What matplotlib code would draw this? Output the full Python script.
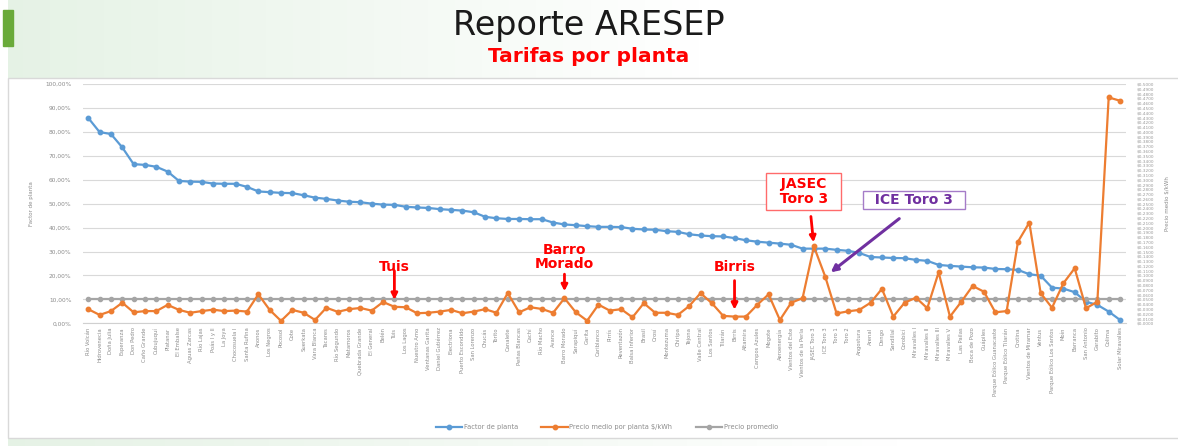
import numpy as np
import matplotlib
matplotlib.use("Agg")
import matplotlib.pyplot as plt
from matplotlib.patches import Rectangle
from matplotlib.ticker import FuncFormatter, FixedLocator

# ---------------- data ----------------
plantas = [
    "Río Volcán", "Hidrovenecia", "Doña Julia", "Esperanza", "Don Pedro", "Caño Grande",
    "Cubujuquí", "Platanar", "El Embalse", "Aguas Zarcas", "Río Lajas", "Poás I y II",
    "La Joya", "Chocosuela I", "Santa Rufina", "Anonos", "Los Negros", "Pocosol",
    "Cote", "Suerkata", "Vara Blanca", "Tacares", "Río Segundo", "Matamoros",
    "Quebrada Grande", "El General", "Belén", "Tuis", "Los Lagos", "Nuestro Amo",
    "Ventanas Garita", "Daniel Gutiérrez", "Electriona", "Puerto Escondido", "San Lorenzo", "Chucás",
    "Torito", "Canalete", "Peñas Blancas", "Cachí", "Río Macho", "Avance",
    "Barro Morado", "Sarapiquí", "Garita", "Cariblanco", "Pirrís", "Reventazón",
    "Balsa Inferior", "Brasil", "Orosí", "Montezuma", "Chiripa", "Tejona",
    "Valle Central", "Los Santos", "Tilarán", "Birris", "Altamira", "Campos Azules",
    "Mogote", "Aeroenergía", "Vientos del Este", "Vientos de la Perla", "JASEC Toro 3", "ICE Toro 3",
    "Toro 1", "Toro 2", "Angostura", "Arenal", "Dengo", "Sandillal",
    "Corobicí", "Miravalles I", "Miravalles II", "Miravalles III", "Miravalles V", "Las Pailas",
    "Boca de Pozo", "Guápiles", "Parque Eólico Guanacaste", "Parque Eólico Tilarán", "Orotina", "Vientos de Miramar",
    "Ventus", "Parque Eólico Los Santos", "Moín", "Barranca", "San Antonio", "Garabito",
    "Colima", "Solar Miravalles",
]

factor_planta = [
    0.858, 0.799, 0.791, 0.735, 0.665, 0.662, 0.654, 0.634, 0.595, 0.592,
    0.591, 0.584, 0.583, 0.583, 0.570, 0.551, 0.548, 0.545, 0.544, 0.535,
    0.525, 0.520, 0.513, 0.508, 0.506, 0.500, 0.496, 0.495, 0.487, 0.484,
    0.482, 0.477, 0.474, 0.471, 0.464, 0.445, 0.439, 0.436, 0.436, 0.435,
    0.435, 0.421, 0.413, 0.410, 0.406, 0.403, 0.403, 0.402, 0.395, 0.392,
    0.391, 0.385, 0.382, 0.372, 0.367, 0.364, 0.363, 0.356, 0.347, 0.341,
    0.337, 0.333, 0.328, 0.312, 0.312, 0.312, 0.307, 0.303, 0.294, 0.277,
    0.275, 0.273, 0.272, 0.265, 0.261, 0.244, 0.240, 0.237, 0.234, 0.233,
    0.227, 0.226, 0.223, 0.205, 0.199, 0.149, 0.145, 0.130, 0.090, 0.077,
    0.049, 0.014,
]

precio_medio = [
    0.0295, 0.0175, 0.0255, 0.0430, 0.0230, 0.0255, 0.0255, 0.0385, 0.0280, 0.0220,
    0.0255, 0.0285, 0.0255, 0.0265, 0.0245, 0.0605, 0.0280, 0.0050, 0.0280, 0.0220,
    0.0070, 0.0325, 0.0240, 0.0295, 0.0320, 0.0265, 0.0445, 0.0345, 0.0335, 0.0210,
    0.0220, 0.0245, 0.0280, 0.0210, 0.0245, 0.0295, 0.0220, 0.0630, 0.0230, 0.0335,
    0.0300, 0.0220, 0.0525, 0.0230, 0.0055, 0.0390, 0.0265, 0.0295, 0.0125, 0.0420,
    0.0220, 0.0220, 0.0175, 0.0360, 0.0630, 0.0420, 0.0155, 0.0140, 0.0140, 0.0385,
    0.0605, 0.0070, 0.0430, 0.0525, 0.1605, 0.0975, 0.0205, 0.0250, 0.0280, 0.0430,
    0.0720, 0.0140, 0.0430, 0.0535, 0.0315, 0.1065, 0.0140, 0.0450, 0.0780, 0.0660,
    0.0230, 0.0255, 0.1705, 0.2105, 0.0630, 0.0325, 0.0835, 0.1150, 0.0315, 0.0450,
    0.4720, 0.4650,
]

precio_promedio = 0.05

anotaciones_rojas = [("Tuis", "Tuis"), ("Barro\nMorado", "Barro Morado"), ("Birris", "Birris")]

# ---------------- figure ----------------
W, H = 1178, 446
fig = plt.figure(figsize=(W / 100, H / 100), dpi=100)
fig.patch.set_facecolor("white")

bg = fig.add_axes([0, 0, 1, 1], zorder=0)
bg.axis("off")
grad = np.linspace(0, 1, 256)
rgb = np.zeros((1, 256, 3))
base = np.array([0.90, 0.95, 0.90])
for k in range(3):
    rgb[0, :, k] = base[k] + (1 - base[k]) * grad
bg.imshow(rgb, extent=[8, 700, 78, 0], aspect="auto", zorder=0)
bg.imshow(rgb, extent=[8, 900, H, 438], aspect="auto", zorder=0)
bg.add_patch(Rectangle((3, 10), 10, 36, color="#6aaa3a", zorder=2))
bg.add_patch(Rectangle((8, 78), 1180, 360, facecolor="white", edgecolor="#d9d9d9", lw=1.0, zorder=1))
bg.set_xlim(0, W)
bg.set_ylim(H, 0)

fig.text(0.5, 1 - 26 / H, "Reporte ARESEP", ha="center", va="center",
         fontsize=24, family="DejaVu Sans", color="#1a1a1a")
fig.text(0.5, 1 - 56 / H, "Tarifas por planta", ha="center", va="center",
         fontsize=14.5, family="DejaVu Sans", fontweight="bold", color="#ff0000")

# main axes
left = 82.6 / W
right = 1125.7 / W
bottom = (H - 323.3) / H
top = (H - 84) / H
ax = fig.add_axes([left, bottom, right - left, top - bottom], zorder=2)
ax.set_facecolor("none")
x = np.arange(len(plantas))
ax.set_xlim(-0.5, len(plantas) - 0.5)
ax.set_ylim(0, 1.0)
ax.yaxis.set_major_locator(FixedLocator(np.arange(0, 1.001, 0.1)))
ax.yaxis.set_major_formatter(FuncFormatter(lambda v, p: f"{v*100:.2f}%".replace(".", ",")))
ax.grid(axis="y", color="#d9d9d9", lw=0.8)
ax.set_axisbelow(True)
for s in ["top", "right", "left"]:
    ax.spines[s].set_visible(False)
ax.spines["bottom"].set_color("#d0d0d0")
ax.tick_params(axis="y", length=0, labelsize=4.2, labelcolor="#8c8c8c", pad=8)
ax.set_xticks(x)
ax.set_xticklabels(plantas, rotation=90, fontsize=3.8, color="#8c8c8c")
ax.tick_params(axis="x", length=0, pad=3)
ax.set_ylabel("Factor de planta", fontsize=4, color="#8c8c8c", labelpad=8)

l1, = ax.plot(x, factor_planta, color="#5b9bd5", lw=1.6, marker="o", ms=3.2,
              label="Factor de planta", zorder=3)

ax2 = ax.twinx()
ax2.set_ylim(0, 0.5)
ax2.set_xlim(-0.5, len(plantas) - 0.5)
ax2.yaxis.set_major_locator(FixedLocator(np.arange(0, 0.5001, 0.01)))
ax2.yaxis.set_major_formatter(FuncFormatter(lambda v, p: f"${v:.4f}".replace(".", ",")))
ax2.tick_params(axis="y", length=0, labelsize=3.1, labelcolor="#9a9a9a", pad=8)
for s in ["top", "right", "left", "bottom"]:
    ax2.spines[s].set_visible(False)
ax2.set_ylabel("Precio medio $/kWh", fontsize=4, color="#8c8c8c", labelpad=8)

l3, = ax2.plot(x, [precio_promedio] * len(x), color="#a5a5a5", lw=1.6, marker="o", ms=3.0,
               label="Precio promedio", zorder=3)
l2, = ax2.plot(x, precio_medio, color="#ed7d31", lw=1.6, marker="o", ms=3.2,
               label="Precio medio por planta $/kWh", zorder=4)

PX = 0.72  # points per pixel at 100 dpi
FS = 10

red_cfg = {"Tuis": (40, 29), "Barro Morado": (41, 17), "Birris": (50, 29)}
for txt, key in anotaciones_rojas:
    i = plantas.index(key)
    text_dy, arrow_len = red_cfg[key]
    v = precio_medio[i]
    ax2.annotate("", xy=(i, v), xytext=(0, (arrow_len + 7) * PX), textcoords="offset points",
                 arrowprops=dict(arrowstyle="-|>", color="#ff0000", lw=2.0, mutation_scale=9,
                                 shrinkA=0, shrinkB=5))
    ax2.annotate(txt, xy=(i, v), xytext=(0, text_dy * PX), textcoords="offset points",
                 ha="center", va="center", fontsize=FS, fontweight="bold", color="#ff0000",
                 family="DejaVu Sans", linespacing=1.0)

# JASEC Toro 3
ij = plantas.index("JASEC Toro 3")
vj = precio_medio[ij]
ax2.annotate("", xy=(ij, vj), xytext=(-3 * PX, 30 * PX), textcoords="offset points",
             arrowprops=dict(arrowstyle="-|>", color="#ff0000", lw=2.0, mutation_scale=9,
                             shrinkA=0, shrinkB=3))
ax2.annotate("  JASEC  \n  Toro 3  ", xy=(ij, vj), xytext=(-10 * PX, 55 * PX), textcoords="offset points",
             ha="center", va="center", fontsize=FS, fontweight="bold", color="#ff0000",
             family="DejaVu Sans", linespacing=1.1,
             bbox=dict(boxstyle="square,pad=0.25", fc="white", ec="#ff6b6b", lw=1.0))

# ICE Toro 3
ii = plantas.index("ICE Toro 3")
vi = precio_medio[ii]
ax2.annotate("", xy=(ii, vi), xytext=(74 * PX, 58 * PX), textcoords="offset points",
             arrowprops=dict(arrowstyle="-|>", color="#7030a0", lw=2.2, mutation_scale=10,
                             shrinkA=0, shrinkB=5))
ax2.annotate("  ICE Toro 3  ", xy=(ii, vi), xytext=(89 * PX, 77 * PX), textcoords="offset points",
             ha="center", va="center", fontsize=FS, fontweight="bold", color="#7030a0",
             family="DejaVu Sans",
             bbox=dict(boxstyle="square,pad=0.15", fc="white", ec="#a57cc8", lw=1.0))

leg = fig.legend(handles=[l1, l2, l3], loc="center", bbox_to_anchor=(0.515, (H - 427) / H),
                 ncol=3, frameon=False, fontsize=4.8, handlelength=4, columnspacing=3.5,
                 handletextpad=0.2)
for t in leg.get_texts():
    t.set_color("#8c8c8c")

fig.savefig("out.png", dpi=100, facecolor="white")
